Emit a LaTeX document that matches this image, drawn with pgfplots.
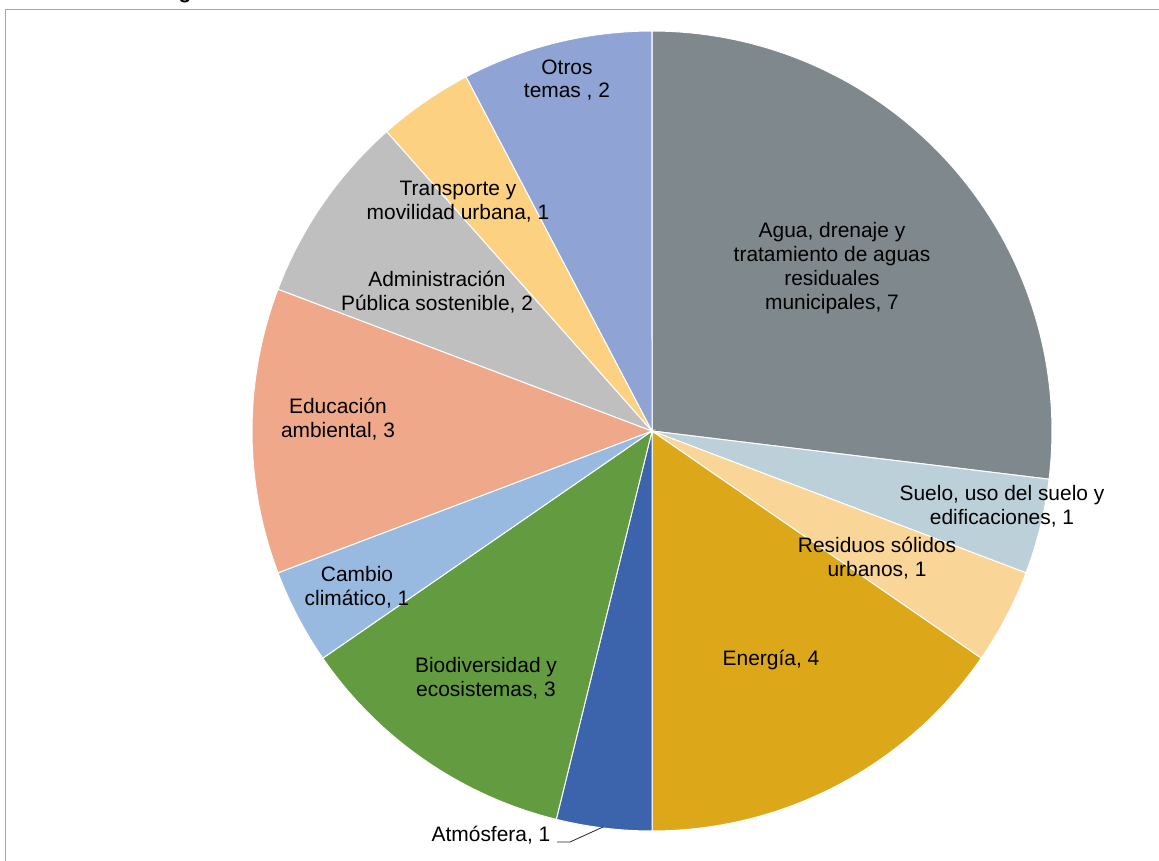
\documentclass[border=0pt]{standalone}
\usepackage{pgfplots}
\pgfplotsset{compat=1.18}
\usepackage{pgfplotstable}
\usepackage{fontspec}
\setmainfont{Liberation Sans}

\definecolor{slice0}{RGB}{127,136,141}
\definecolor{slice1}{RGB}{188,208,217}
\definecolor{slice2}{RGB}{249,213,151}
\definecolor{slice3}{RGB}{220,167,24}
\definecolor{slice4}{RGB}{59,100,173}
\definecolor{slice5}{RGB}{98,155,64}
\definecolor{slice6}{RGB}{152,185,224}
\definecolor{slice7}{RGB}{240,168,138}
\definecolor{slice8}{RGB}{191,191,191}
\definecolor{slice9}{RGB}{253,209,130}
\definecolor{slice10}{RGB}{143,163,212}
\definecolor{framegray}{RGB}{166,166,166}

\newcommand\lblfont{\fontsize{21}{24}\selectfont}

% temas y numero de proyectos, en el orden del grafico (horario desde arriba)
\pgfplotstableread[col sep=comma]{
tema,value
Agua,7
Suelo,1
Residuos,1
Energia,4
Atmosfera,1
Biodiversidad,3
Cambio,1
Educacion,3
Administracion,2
Transporte,1
Otros,2
}\data

\pgfplotstablecreatecol[create col/expr accum={\pgfmathaccuma + \thisrow{value}}{0}]{cum}\data
\pgfplotstablegetelem{10}{cum}\of\data
\pgfmathsetmacro\total{\pgfplotsretval}
\pgfplotstablecreatecol[create col/expr={90-360*(\thisrow{cum}-\thisrow{value})/\total}]{start}\data
\pgfplotstablecreatecol[create col/expr={90-360*\thisrow{cum}/\total}]{end}\data

\begin{document}
\begin{tikzpicture}[lbl/.style={font=\lblfont, align=center, text=black, inner sep=0pt}]
\begin{axis}[
    anchor=origin, at={(0,0)},
    x=1bp, y=1bp,
    xmin=0, xmax=1159, ymin=0, ymax=861,
    hide axis, clip=false,
]
  \pgfplotsinvokeforeach{0,...,10}{
    \pgfplotstablegetelem{#1}{start}\of\data \let\sa\pgfplotsretval
    \pgfplotstablegetelem{#1}{end}\of\data \let\ea\pgfplotsretval
    \edef\temp{\noexpand\addplot[draw=white, line width=1bp, fill=slice#1,
        domain=\ea:\sa, samples=90]
      ({652+400*cos(x)},{430+400*sin(x)}) -- (axis cs:652,430) -- cycle;}
    \temp
  }

  % frame
  \draw[framegray, line width=1.5bp] (axis cs:1200,851.5) -- (axis cs:5.5,851.5) -- (axis cs:5.5,-20);
  \node[lbl, anchor=base, font=\lblfont\bfseries] at (axis cs:185,862.5) {g};

  % labels
  \node[lbl] at (axis cs:832,593) {Agua, drenaje y\\tratamiento de aguas\\residuales\\municipales, 7};
  \node[lbl] at (axis cs:1002,355) {Suelo, uso del suelo y\\edificaciones, 1};
  \node[lbl] at (axis cs:877,303) {Residuos sólidos\\urbanos, 1};
  \node[lbl] at (axis cs:771,201) {Energía, 4};
  \node[lbl] at (axis cs:491,26) {Atmósfera, 1};
  \node[lbl] at (axis cs:486,183) {Biodiversidad y\\ecosistemas, 3};
  \node[lbl] at (axis cs:357,274) {Cambio\\climático, 1};
  \node[lbl] at (axis cs:338,442) {Educación\\ambiental, 3};
  \node[lbl] at (axis cs:437,569) {Administración\\Pública sostenible, 2};
  \node[lbl] at (axis cs:458,659) {Transporte y\\movilidad urbana, 1};
  \node[lbl] at (axis cs:567,781) {Otros\\temas , 2};

  \draw[black!85, line width=0.8bp] (axis cs:557,19) -- (axis cs:570,19) -- (axis cs:603,34);
\end{axis}
\pgfresetboundingbox
\useasboundingbox (0,0) rectangle (1159bp,861bp);
\end{tikzpicture}
\end{document}
